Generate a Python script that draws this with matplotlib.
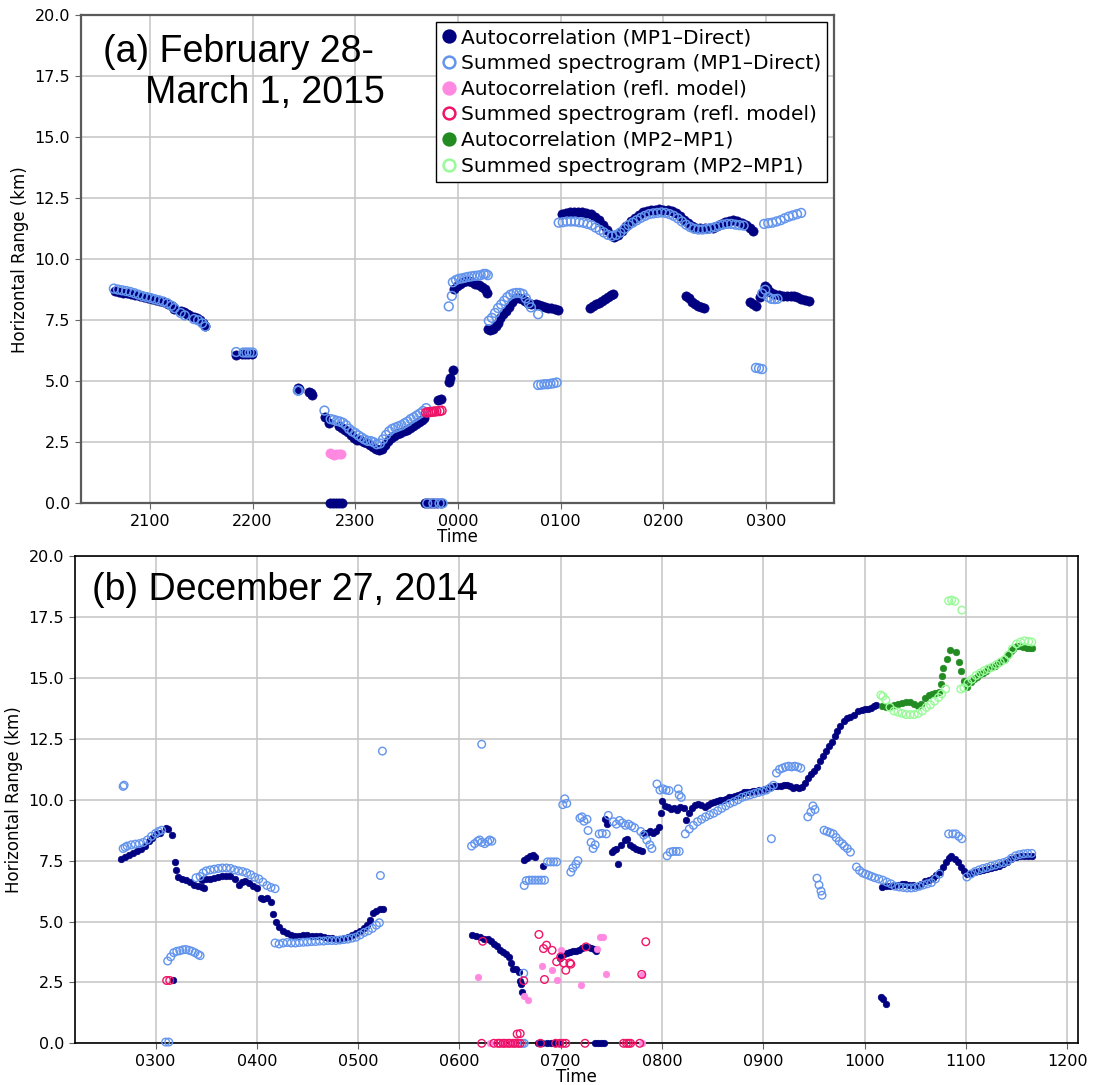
import matplotlib
matplotlib.use("Agg")
import matplotlib.pyplot as plt
from matplotlib.ticker import FuncFormatter, MultipleLocator
from matplotlib.lines import Line2D

# ---------------------------------------------------------------------------
# Panel (a): 28 Feb - 1 Mar 2015.  Time in decimal hours (24 = 0000 next day),
# range in km.
# ---------------------------------------------------------------------------
a_ac_mp1 = [
    (20.66, 8.71), (20.70, 8.66), (20.74, 8.62), (20.78, 8.60), (20.82, 8.57),
    (20.86, 8.53), (20.90, 8.49), (20.94, 8.44), (20.98, 8.40), (21.02, 8.36),
    (21.06, 8.32), (21.10, 8.28), (21.14, 8.23), (21.18, 8.16), (21.22, 8.08),
    (21.24, 7.98), (21.30, 7.90), (21.33, 7.84), (21.36, 7.76), (21.38, 7.72),
    (21.43, 7.62), (21.46, 7.58), (21.49, 7.50), (21.52, 7.38), (21.54, 7.28),
    (21.84, 6.08), (21.90, 6.10), (21.93, 6.10), (21.96, 6.10), (21.99, 6.10),
    (22.44, 4.73), (22.45, 4.70), (22.55, 4.55), (22.57, 4.50), (22.58, 4.45),
    (22.71, 3.52), (22.74, 3.30), (22.84, 3.15), (22.87, 3.10), (22.90, 3.02),
    (22.93, 2.92), (22.96, 2.80), (22.99, 2.68), (23.02, 2.60), (23.05, 2.58),
    (23.08, 2.50), (23.11, 2.46), (23.14, 2.40), (23.17, 2.32), (23.20, 2.24),
    (23.23, 2.19), (23.26, 2.24), (23.29, 2.40), (23.32, 2.55), (23.35, 2.68),
    (23.38, 2.76), (23.41, 2.82), (23.44, 2.88), (23.47, 2.95), (23.50, 3.01),
    (23.53, 3.10), (23.56, 3.18), (23.59, 3.25), (23.62, 3.33), (23.65, 3.42),
    (23.67, 3.48), (23.81, 4.22), (23.83, 4.28), (23.91, 4.96), (23.92, 5.15),
    (23.95, 5.46),
    (22.75, 0.0), (22.78, 0.0), (22.81, 0.0), (22.84, 0.0), (22.87, 0.0),
    (23.68, 0.0), (23.71, 0.0), (23.74, 0.0), (23.77, 0.0), (23.80, 0.0),
    (23.83, 0.0),
    (23.96, 8.78), (23.99, 8.92), (24.02, 9.00), (24.05, 9.06), (24.08, 9.10),
    (24.11, 9.13), (24.14, 9.08), (24.17, 9.00), (24.20, 8.94), (24.23, 8.88),
    (24.26, 8.80), (24.28, 8.62),
    (24.29, 7.13), (24.31, 7.10), (24.34, 7.15), (24.37, 7.25), (24.39, 7.40),
    (24.41, 7.60), (24.44, 7.75), (24.47, 7.89), (24.50, 8.05), (24.53, 8.25),
    (24.56, 8.40), (24.59, 8.42), (24.62, 8.38), (24.65, 8.30), (24.68, 8.20),
    (24.71, 8.16), (24.76, 8.18), (24.79, 8.14), (24.82, 8.10), (24.85, 8.05),
    (24.88, 8.02), (24.91, 8.00), (24.94, 7.96), (24.97, 7.93),
    (25.01, 11.85), (25.05, 11.90), (25.09, 11.92), (25.13, 11.93), (25.17, 11.95),
    (25.21, 11.93), (25.25, 11.90), (25.29, 11.85), (25.33, 11.75), (25.37, 11.60),
    (25.41, 11.40), (25.45, 11.20), (25.49, 11.00), (25.52, 10.90), (25.56, 11.00),
    (25.60, 11.15), (25.64, 11.35), (25.68, 11.55), (25.72, 11.70), (25.76, 11.82),
    (25.80, 11.92), (25.84, 11.98), (25.88, 12.02), (25.92, 12.04), (25.96, 12.05),
    (26.00, 12.03), (26.04, 12.00), (26.08, 11.98), (26.12, 11.90), (26.16, 11.78),
    (26.20, 11.62), (26.24, 11.48), (26.28, 11.38), (26.32, 11.30), (26.36, 11.28),
    (26.40, 11.27), (26.44, 11.27), (26.48, 11.30), (26.52, 11.38), (26.56, 11.45),
    (26.60, 11.52), (26.64, 11.58), (26.68, 11.60), (26.72, 11.55), (26.76, 11.48),
    (26.80, 11.40), (26.84, 11.30), (26.87, 11.15),
    (25.28, 8.00), (25.31, 8.08), (25.34, 8.15), (25.37, 8.22), (25.40, 8.30),
    (25.43, 8.38), (25.46, 8.45), (25.49, 8.52), (25.51, 8.58),
    (26.22, 8.50), (26.25, 8.40), (26.28, 8.25), (26.31, 8.15), (26.34, 8.10),
    (26.37, 8.05), (26.39, 8.00),
    (26.84, 8.26), (26.87, 8.18), (26.90, 8.10),
    (26.94, 8.45), (26.97, 8.65), (26.99, 8.90), (27.01, 8.82), (27.04, 8.68),
    (27.08, 8.58), (27.12, 8.52), (27.16, 8.50), (27.20, 8.48), (27.24, 8.50),
    (27.27, 8.50), (27.30, 8.45), (27.34, 8.38), (27.38, 8.35), (27.42, 8.28),
]

a_ss_mp1 = [
    (20.65, 8.80), (20.69, 8.76), (20.73, 8.73), (20.77, 8.70), (20.81, 8.66),
    (20.85, 8.61), (20.89, 8.55), (20.93, 8.49), (20.97, 8.45), (21.01, 8.41),
    (21.05, 8.36), (21.09, 8.32), (21.13, 8.27), (21.17, 8.20), (21.21, 8.10),
    (21.24, 8.00), (21.30, 7.80), (21.34, 7.70), (21.43, 7.55), (21.47, 7.50),
    (21.51, 7.38), (21.54, 7.25),
    (21.84, 6.20), (21.91, 6.18), (21.94, 6.18), (21.97, 6.18), (22.00, 6.18),
    (22.44, 4.62), (22.45, 4.62), (22.70, 3.80),
    (22.76, 3.45), (22.79, 3.42), (22.82, 3.38), (22.85, 3.35), (22.88, 3.30),
    (22.91, 3.20), (22.94, 3.05), (22.97, 2.95), (23.00, 2.88), (23.03, 2.78),
    (23.06, 2.70), (23.09, 2.62), (23.12, 2.56), (23.15, 2.55), (23.18, 2.50),
    (23.21, 2.42), (23.24, 2.45), (23.27, 2.62), (23.30, 2.80), (23.33, 2.95),
    (23.36, 3.05), (23.39, 3.10), (23.42, 3.15), (23.45, 3.20), (23.48, 3.28),
    (23.51, 3.35), (23.54, 3.45), (23.57, 3.52), (23.60, 3.60), (23.63, 3.68),
    (23.66, 3.78), (23.69, 3.90),
    (23.70, 0.0), (23.76, 0.0), (23.82, 0.0), (23.85, 0.0),
    (23.91, 8.07), (23.94, 8.50),
    (23.95, 9.06), (23.98, 9.15), (24.01, 9.20), (24.04, 9.22), (24.07, 9.25),
    (24.10, 9.28), (24.13, 9.30), (24.16, 9.32), (24.19, 9.33), (24.22, 9.35),
    (24.25, 9.40), (24.27, 9.40), (24.29, 9.35),
    (24.30, 7.48), (24.33, 7.60), (24.36, 7.80), (24.39, 8.00), (24.42, 8.15),
    (24.45, 8.30), (24.48, 8.45), (24.51, 8.55), (24.54, 8.60), (24.57, 8.62),
    (24.60, 8.62), (24.63, 8.58), (24.66, 8.40), (24.69, 8.20), (24.71, 8.03),
    (24.78, 7.75),
    (24.78, 4.85), (24.81, 4.86), (24.84, 4.88), (24.87, 4.88), (24.90, 4.90),
    (24.93, 4.92), (24.96, 4.95),
    (24.98, 11.50), (25.02, 11.52), (25.06, 11.55), (25.10, 11.55), (25.14, 11.55),
    (25.18, 11.52), (25.22, 11.50), (25.26, 11.45), (25.30, 11.40), (25.34, 11.30),
    (25.38, 11.20), (25.42, 11.10), (25.46, 11.00), (25.50, 10.95), (25.54, 11.00),
    (25.58, 11.10), (25.62, 11.25), (25.66, 11.40), (25.70, 11.50), (25.74, 11.60),
    (25.78, 11.70), (25.82, 11.78), (25.86, 11.85), (25.90, 11.88), (25.94, 11.90),
    (25.98, 11.92), (26.02, 11.90), (26.06, 11.85), (26.10, 11.78), (26.14, 11.68),
    (26.18, 11.55), (26.22, 11.42), (26.26, 11.32), (26.30, 11.25), (26.34, 11.22),
    (26.38, 11.22), (26.42, 11.24), (26.46, 11.28), (26.50, 11.32), (26.54, 11.38),
    (26.58, 11.42), (26.62, 11.45), (26.66, 11.45), (26.70, 11.42), (26.74, 11.40),
    (26.78, 11.38),
    (26.90, 5.55), (26.93, 5.53), (26.96, 5.50),
    (26.96, 8.60), (26.99, 8.75), (27.02, 8.45), (27.05, 8.38), (27.08, 8.37),
    (27.11, 8.38),
    (26.98, 11.45), (27.02, 11.48), (27.06, 11.50), (27.10, 11.55), (27.14, 11.60),
    (27.18, 11.68), (27.22, 11.75), (27.26, 11.80), (27.30, 11.85), (27.34, 11.90),
]

a_ac_refl = [
    (22.75, 2.08), (22.77, 2.02), (22.79, 1.98), (22.81, 2.02), (22.84, 2.00),
    (22.86, 2.03),
]

a_ss_refl = [
    (23.69, 3.72), (23.71, 3.73), (23.73, 3.74), (23.75, 3.75), (23.77, 3.76),
    (23.79, 3.77), (23.82, 3.78), (23.84, 3.80),
]

# ---------------------------------------------------------------------------
# Panel (b): 27 Dec 2014.
# ---------------------------------------------------------------------------
b_ac_mp1 = [
    (2.66, 7.58), (2.70, 7.65), (2.74, 7.75), (2.78, 7.83), (2.82, 7.90),
    (2.86, 7.98), (2.90, 8.10), (2.94, 8.30), (2.97, 8.45), (3.00, 8.58),
    (3.04, 8.65), (3.10, 8.85), (3.12, 8.80), (3.16, 8.57), (3.19, 7.46),
    (3.20, 7.13), (3.17, 2.60),
    (3.22, 6.82), (3.26, 6.75), (3.30, 6.70), (3.34, 6.62), (3.38, 6.52),
    (3.42, 6.45), (3.46, 6.40), (3.48, 6.36),
    (3.46, 6.72), (3.50, 6.75), (3.54, 6.76), (3.58, 6.78), (3.62, 6.82),
    (3.66, 6.86), (3.70, 6.88), (3.74, 6.86), (3.78, 6.75), (3.82, 6.52),
    (3.85, 6.62), (3.88, 6.68), (3.92, 6.60), (3.96, 6.48), (4.00, 6.38),
    (4.04, 5.95), (4.06, 5.92), (4.10, 5.95), (4.14, 5.80), (4.16, 5.30),
    (4.19, 5.00), (4.22, 4.78), (4.26, 4.62), (4.30, 4.52), (4.34, 4.45),
    (4.38, 4.42), (4.42, 4.42), (4.46, 4.43), (4.50, 4.43), (4.54, 4.42),
    (4.58, 4.42), (4.62, 4.40), (4.66, 4.37), (4.70, 4.33), (4.74, 4.32),
    (4.78, 4.30), (4.82, 4.29), (4.86, 4.32), (4.90, 4.38), (4.94, 4.43),
    (4.98, 4.52), (5.02, 4.60), (5.06, 4.72), (5.09, 4.85), (5.12, 5.05),
    (5.15, 5.35), (5.18, 5.45), (5.22, 5.50), (5.25, 5.53),
    (6.12, 4.44), (6.16, 4.40), (6.20, 4.35), (6.24, 4.30), (6.28, 4.28),
    (6.31, 4.20), (6.34, 4.08), (6.37, 3.98), (6.40, 3.85), (6.43, 3.75),
    (6.46, 3.65), (6.49, 3.55), (6.51, 3.30), (6.53, 3.07), (6.56, 3.05),
    (6.585, 2.93), (6.60, 2.55), (6.61, 2.43), (6.62, 2.12),
    (6.99, 3.50), (7.00, 3.60), (7.03, 3.68), (7.06, 3.72), (7.09, 3.76),
    (7.12, 3.78), (7.15, 3.80), (7.18, 3.84), (7.21, 3.90), (7.24, 3.95),
    (7.27, 3.97), (7.30, 3.93), (7.33, 3.88), (7.35, 3.80),
    (6.78, 0.0), (6.82, 0.0), (6.86, 0.0), (6.90, 0.0), (6.94, 0.0), (6.98, 0.0),
    (7.34, 0.0), (7.37, 0.0), (7.40, 0.0), (7.43, 0.0),
    (6.64, 7.52), (6.67, 7.62), (6.70, 7.70), (6.73, 7.72), (6.75, 7.65),
    (6.83, 7.27),
    (7.44, 9.22), (7.46, 9.00), (7.51, 7.85), (7.53, 7.95), (7.55, 8.00),
    (7.57, 7.38), (7.60, 8.13), (7.63, 8.35), (7.65, 8.37), (7.68, 8.15),
    (7.71, 8.05), (7.74, 7.98), (7.77, 7.95), (7.80, 7.90),
    (7.82, 8.62), (7.85, 8.65), (7.88, 8.70), (7.91, 8.65), (7.94, 8.72),
    (7.97, 8.90), (7.99, 9.44), (8.00, 9.97), (8.03, 9.75), (8.06, 9.70),
    (8.09, 9.62), (8.12, 9.65), (8.15, 9.60), (8.18, 9.72), (8.22, 9.66),
    (8.24, 9.18), (8.27, 9.45), (8.30, 9.65), (8.33, 9.78), (8.36, 9.82),
    (8.39, 9.78), (8.42, 9.72), (8.45, 9.78), (8.48, 9.85), (8.51, 9.90),
    (8.54, 9.95), (8.57, 9.98), (8.60, 10.00), (8.63, 10.05), (8.66, 10.10),
    (8.69, 10.10), (8.72, 10.15), (8.75, 10.20), (8.78, 10.25), (8.81, 10.30),
    (8.84, 10.32), (8.87, 10.33), (8.90, 10.35), (8.93, 10.38), (8.96, 10.40),
    (8.99, 10.42), (9.02, 10.45), (9.05, 10.48), (9.08, 10.52), (9.11, 10.55),
    (9.14, 10.55), (9.17, 10.58), (9.20, 10.62), (9.23, 10.60), (9.26, 10.55),
    (9.29, 10.50), (9.32, 10.52), (9.35, 10.50), (9.38, 10.52), (9.41, 10.70),
    (9.44, 10.90), (9.47, 11.05), (9.50, 11.20), (9.53, 11.35), (9.56, 11.60),
    (9.59, 11.80), (9.62, 12.00), (9.65, 12.20), (9.68, 12.36), (9.71, 12.60),
    (9.73, 12.84), (9.76, 13.05), (9.80, 13.25), (9.83, 13.35), (9.86, 13.41),
    (9.90, 13.50), (9.94, 13.66), (9.97, 13.70), (10.00, 13.72), (10.03, 13.73),
    (10.06, 13.78), (10.09, 13.85), (10.11, 13.90),
    (10.16, 1.90), (10.18, 1.80), (10.21, 1.60),
    (10.17, 6.42), (10.21, 6.45), (10.25, 6.48), (10.29, 6.50), (10.33, 6.52),
    (10.37, 6.55), (10.40, 6.56), (10.44, 6.52), (10.48, 6.50), (10.52, 6.48),
    (10.56, 6.55), (10.60, 6.67), (10.64, 6.70), (10.68, 6.80), (10.71, 6.90),
    (10.74, 7.05), (10.77, 7.25), (10.80, 7.44), (10.83, 7.60), (10.85, 7.70),
    (10.89, 7.58), (10.92, 7.45), (10.95, 7.24), (10.98, 7.08), (11.01, 6.97),
    (11.05, 6.98), (11.09, 7.03), (11.13, 7.08), (11.17, 7.12), (11.21, 7.15),
    (11.25, 7.20), (11.29, 7.25), (11.33, 7.30), (11.37, 7.35), (11.41, 7.44),
    (11.45, 7.55), (11.49, 7.65), (11.53, 7.68), (11.57, 7.68), (11.61, 7.68),
    (11.65, 7.68),
]

b_ss_mp1 = [
    (2.68, 10.55), (2.69, 10.60),
    (2.68, 8.00), (2.70, 8.05), (2.72, 8.10), (2.76, 8.15), (2.80, 8.18),
    (2.84, 8.20), (2.88, 8.25), (2.92, 8.35), (2.96, 8.50), (3.00, 8.62),
    (3.03, 8.70), (3.06, 8.75),
    (3.10, 0.05), (3.13, 0.05),
    (3.12, 3.38), (3.15, 3.55), (3.18, 3.72), (3.21, 3.78), (3.24, 3.80),
    (3.27, 3.84), (3.30, 3.85), (3.33, 3.82), (3.36, 3.78), (3.39, 3.72),
    (3.42, 3.65), (3.44, 3.60),
    (3.40, 6.80), (3.44, 6.85), (3.47, 7.00), (3.50, 7.08), (3.54, 7.12),
    (3.58, 7.15), (3.62, 7.18), (3.66, 7.20), (3.70, 7.20), (3.74, 7.18),
    (3.78, 7.12), (3.82, 7.08), (3.86, 7.05), (3.90, 7.00), (3.94, 6.92),
    (3.98, 6.82), (4.02, 6.75), (4.06, 6.62), (4.10, 6.48), (4.14, 6.40),
    (4.18, 6.35),
    (4.18, 4.12), (4.22, 4.08), (4.26, 4.12), (4.30, 4.14), (4.34, 4.12),
    (4.38, 4.12), (4.42, 4.14), (4.46, 4.15), (4.50, 4.16), (4.54, 4.18),
    (4.58, 4.18), (4.62, 4.20), (4.66, 4.20), (4.70, 4.22), (4.74, 4.22),
    (4.78, 4.22), (4.82, 4.24), (4.86, 4.26), (4.90, 4.28), (4.94, 4.32),
    (4.98, 4.36), (5.02, 4.45), (5.06, 4.55), (5.10, 4.62), (5.14, 4.72),
    (5.18, 4.85), (5.21, 4.95),
    (5.22, 6.89), (5.24, 12.00),
    (6.12, 8.10), (6.15, 8.20), (6.18, 8.30), (6.20, 8.35), (6.22, 8.25),
    (6.25, 8.20), (6.28, 8.28), (6.30, 8.35), (6.32, 8.30), (6.22, 12.28),
    (6.635, 2.88), (6.62, 0.0), (6.64, 0.0),
    (6.64, 6.48), (6.66, 6.68), (6.69, 6.70), (6.72, 6.70), (6.75, 6.70),
    (6.78, 6.70), (6.81, 6.70), (6.84, 6.70),
    (6.87, 7.45), (6.90, 7.45), (6.93, 7.45), (6.96, 7.45),
    (7.10, 7.03), (7.12, 7.20), (7.15, 7.35), (7.17, 7.50),
    (7.02, 9.80), (7.04, 10.04), (7.06, 9.85),
    (7.19, 9.25), (7.21, 9.30), (7.23, 9.12), (7.26, 9.20), (7.27, 8.74),
    (7.30, 8.25), (7.32, 8.00), (7.34, 8.15), (7.38, 8.60), (7.41, 8.62),
    (7.45, 8.60), (7.47, 9.36),
    (7.52, 9.10), (7.55, 9.00), (7.58, 9.15), (7.61, 9.05), (7.64, 8.95),
    (7.67, 9.00), (7.70, 8.92), (7.73, 8.85),
    (7.79, 8.70), (7.82, 8.55), (7.85, 8.35), (7.88, 8.15), (7.90, 8.00),
    (7.95, 10.65), (7.98, 10.40), (8.01, 10.45), (8.04, 10.40), (8.07, 10.38),
    (8.16, 10.45), (8.17, 10.20), (8.19, 10.10),
    (8.05, 7.70), (8.08, 7.85), (8.11, 7.88), (8.14, 7.88), (8.17, 7.88),
    (8.23, 8.60), (8.27, 8.80), (8.31, 8.95), (8.35, 9.10), (8.39, 9.20),
    (8.43, 9.30), (8.47, 9.38), (8.51, 9.45), (8.55, 9.55), (8.59, 9.65),
    (8.63, 9.75), (8.67, 9.85), (8.71, 9.92), (8.75, 10.00), (8.79, 10.10),
    (8.83, 10.15), (8.87, 10.20), (8.91, 10.25), (8.95, 10.30), (8.99, 10.35),
    (9.03, 10.40), (9.07, 10.50), (9.10, 10.60), (9.13, 11.10), (9.16, 11.25),
    (9.19, 11.30), (9.22, 11.35), (9.25, 11.38), (9.28, 11.35), (9.31, 11.38),
    (9.34, 11.35), (9.37, 11.30),
    (9.08, 8.40),
    (9.44, 9.30), (9.47, 9.50), (9.49, 9.75), (9.51, 9.60),
    (9.53, 6.78), (9.55, 6.50), (9.57, 6.25), (9.58, 6.08),
    (9.60, 8.75), (9.63, 8.70), (9.66, 8.65), (9.69, 8.60), (9.72, 8.45),
    (9.75, 8.30), (9.78, 8.20), (9.80, 8.10), (9.83, 8.00), (9.86, 7.85),
    (9.92, 7.24), (9.95, 7.10), (9.98, 7.00), (10.01, 6.95), (10.04, 6.90),
    (10.07, 6.85), (10.10, 6.80), (10.14, 6.75), (10.18, 6.70), (10.22, 6.62),
    (10.26, 6.55), (10.30, 6.45), (10.34, 6.42), (10.38, 6.40), (10.42, 6.38),
    (10.46, 6.38), (10.50, 6.40), (10.54, 6.45), (10.58, 6.50), (10.62, 6.55),
    (10.66, 6.60), (10.70, 6.75), (10.74, 6.95),
    (10.83, 8.60), (10.87, 8.60), (10.90, 8.60), (10.93, 8.50), (10.96, 8.40),
    (11.01, 6.83), (11.05, 6.95), (11.09, 7.05), (11.13, 7.12), (11.17, 7.18),
    (11.21, 7.22), (11.25, 7.28), (11.29, 7.32), (11.33, 7.38), (11.37, 7.42),
    (11.41, 7.48), (11.45, 7.60), (11.49, 7.70), (11.53, 7.75), (11.57, 7.78),
    (11.61, 7.80), (11.65, 7.80),
]

b_ac_refl = [
    (6.18, 2.73), (6.635, 1.94), (6.68, 1.77), (6.815, 3.17), (6.915, 3.00),
    (6.96, 2.60), (7.00, 3.82), (7.20, 2.39), (7.36, 3.89), (7.39, 4.37),
    (7.42, 4.37), (7.45, 2.83), (7.80, 2.80),
    (6.30, 0.0), (6.42, 0.0), (6.52, 0.0), (7.80, 0.0),
]

b_ss_refl = [
    (3.11, 2.58), (3.14, 2.58),
    (6.23, 4.19), (6.635, 2.57), (6.785, 4.47), (6.83, 3.89), (6.86, 4.03),
    (6.915, 3.82), (6.84, 2.62), (6.96, 3.35), (7.00, 3.55), (7.03, 3.30),
    (7.05, 3.00), (7.09, 3.30), (7.10, 3.25), (7.25, 3.96), (7.80, 2.83),
    (7.84, 4.17),
    (6.22, 0.0), (6.34, 0.0), (6.38, 0.0), (6.40, 0.0), (6.43, 0.0), (6.45, 0.0),
    (6.48, 0.0), (6.50, 0.0), (6.53, 0.0), (6.55, 0.0), (6.58, 0.0), (6.60, 0.0),
    (6.57, 0.38), (6.60, 0.40),
    (6.80, 0.0), (6.95, 0.0), (6.99, 0.0), (7.02, 0.0), (7.05, 0.0), (7.24, 0.0),
    (7.62, 0.0), (7.65, 0.0), (7.67, 0.0), (7.69, 0.0), (7.78, 0.0),
]

b_ac_mp2 = [
    (10.17, 13.85), (10.21, 13.80), (10.25, 13.85), (10.29, 13.90), (10.33, 13.93),
    (10.37, 13.98), (10.41, 14.00), (10.45, 14.00), (10.49, 13.95), (10.53, 13.85),
    (10.56, 13.95), (10.60, 14.20), (10.64, 14.30), (10.67, 14.34), (10.70, 14.40),
    (10.73, 14.43), (10.75, 14.75), (10.76, 15.10), (10.77, 15.43), (10.81, 15.78),
    (10.84, 16.15), (10.90, 16.05), (10.93, 15.64), (10.95, 15.27), (10.98, 14.89),
    (11.01, 14.64), (11.05, 14.85), (11.08, 14.96), (11.11, 15.05), (11.14, 15.15),
    (11.17, 15.22), (11.20, 15.30), (11.23, 15.40), (11.26, 15.45), (11.29, 15.50),
    (11.32, 15.60), (11.35, 15.70), (11.39, 15.78), (11.42, 15.95), (11.45, 16.10),
    (11.47, 16.19), (11.50, 16.30), (11.53, 16.32), (11.56, 16.28), (11.60, 16.25),
    (11.63, 16.25), (11.65, 16.23),
]

b_ss_mp2 = [
    (10.16, 14.30), (10.18, 14.25), (10.21, 14.10), (10.25, 13.80), (10.29, 13.65),
    (10.33, 13.60), (10.37, 13.55), (10.41, 13.50), (10.45, 13.50), (10.49, 13.50),
    (10.53, 13.55), (10.57, 13.65), (10.61, 13.80), (10.65, 13.90), (10.69, 14.05),
    (10.73, 14.20), (10.76, 14.35), (10.80, 14.55),
    (10.83, 18.17), (10.86, 18.20), (10.89, 18.15), (10.96, 17.79),
    (10.95, 14.55), (10.98, 14.60), (11.02, 14.80), (11.06, 14.95), (11.10, 15.10),
    (11.14, 15.20), (11.18, 15.30), (11.22, 15.38), (11.26, 15.45), (11.30, 15.55),
    (11.34, 15.65), (11.38, 15.75), (11.42, 15.95), (11.46, 16.20), (11.50, 16.40),
    (11.54, 16.48), (11.58, 16.53), (11.62, 16.50), (11.65, 16.48),
]

labels = [
    "Autocorrelation (MP1\u2013Direct)",
    "Summed spectrogram (MP1\u2013Direct)",
    "Autocorrelation (refl. model)",
    "Summed spectrogram (refl. model)",
    "Autocorrelation (MP2\u2013MP1)",
    "Summed spectrogram (MP2\u2013MP1)",
]
C_AC_MP1 = "#000080"
C_SS_MP1 = "#6495ED"
C_AC_REFL = "#FF88E0"
C_SS_REFL = "#F01468"
C_AC_MP2 = "#228B22"
C_SS_MP2 = "#98FB98"

W, H = 1093, 1085
fig = plt.figure(figsize=(W / 100, H / 100), dpi=100)

ax_a = fig.add_axes([81 / W, 1 - 503.3 / H, 753 / W, 488 / H])
ax_b = fig.add_axes([75 / W, 1 - 1043.3 / H, 1003 / W, 487 / H])


def hhmm(x, pos):
    return f"{int(round(x)) % 24:02d}00"


def scatter_series(ax, pts, filled, color, size, lw):
    if not pts:
        return
    t = [p[0] for p in pts]
    r = [p[1] for p in pts]
    if filled:
        ax.scatter(t, r, s=size, c=color, edgecolors=color, linewidths=0.5,
                   zorder=3, clip_on=False)
    else:
        ax.scatter(t, r, s=size, facecolors="none", edgecolors=color,
                   linewidths=lw, zorder=3, clip_on=False)


def style_axes(ax, spine_color, spine_lw):
    ax.set_ylim(0, 20)
    ax.yaxis.set_major_locator(MultipleLocator(2.5))
    ax.yaxis.set_major_formatter(FuncFormatter(lambda v, p: f"{v:.1f}"))
    ax.xaxis.set_major_locator(MultipleLocator(1.0))
    ax.xaxis.set_major_formatter(FuncFormatter(hhmm))
    ax.grid(True, color="#c8c8c8", lw=1.2)
    ax.set_axisbelow(True)
    for s in ax.spines.values():
        s.set_color(spine_color)
        s.set_linewidth(spine_lw)
    ax.tick_params(axis="both", labelsize=11.5, length=4, width=0.8,
                   color="#666666", pad=4)
    ax.set_xlabel("Time", fontsize=12, labelpad=-1)
    ax.set_ylabel("Horizontal Range (km)", fontsize=12, labelpad=4)


# Panel (a)
scatter_series(ax_a, a_ac_mp1, True, C_AC_MP1, 44, 1.0)
scatter_series(ax_a, a_ss_mp1, False, C_SS_MP1, 40, 1.1)
scatter_series(ax_a, a_ac_refl, True, C_AC_REFL, 44, 1.0)
scatter_series(ax_a, a_ss_refl, False, C_SS_REFL, 40, 1.1)
ax_a.set_xlim(20.33, 27.66)
style_axes(ax_a, "#5a5a5a", 1.6)

# Panel (b)
scatter_series(ax_b, b_ac_mp1, True, C_AC_MP1, 22, 1.0)
scatter_series(ax_b, b_ss_mp1, False, C_SS_MP1, 30, 1.0)
scatter_series(ax_b, b_ac_refl, True, C_AC_REFL, 22, 1.0)
scatter_series(ax_b, b_ss_refl, False, C_SS_REFL, 30, 1.0)
scatter_series(ax_b, b_ac_mp2, True, C_AC_MP2, 22, 1.0)
scatter_series(ax_b, b_ss_mp2, False, C_SS_MP2, 30, 1.0)
ax_b.set_xlim(2.205, 12.107)
style_axes(ax_b, "black", 1.2)

# Legend for both panels
handles = []
for lab, col, filled in zip(labels,
                            [C_AC_MP1, C_SS_MP1, C_AC_REFL, C_SS_REFL, C_AC_MP2, C_SS_MP2],
                            [True, False, True, False, True, False]):
    handles.append(Line2D([], [], ls="none", marker="o", markersize=8.5,
                          markerfacecolor=col if filled else "none",
                          markeredgecolor=col, markeredgewidth=1.8,
                          label=lab))
leg = ax_a.legend(handles=handles, loc="upper right", fontsize=14.5,
                  frameon=True, fancybox=False, framealpha=1,
                  edgecolor="black", handlelength=0.6, handletextpad=0.3,
                  borderpad=0.3, labelspacing=0.33, borderaxespad=0.35)
leg.get_frame().set_linewidth(1.0)

title_font = dict(family="Liberation Sans", fontsize=27, color="black")
fig.text(103 / W, 1 - 52 / H, "(a) February 28-", va="center", ha="left",
         **title_font)
fig.text(145 / W, 1 - 93 / H, "March 1, 2015", va="center", ha="left",
         **title_font)
fig.text(92 / W, 1 - 590 / H, "(b) December 27, 2014", va="center", ha="left",
         **title_font)

fig.savefig("out.png", dpi=100)
